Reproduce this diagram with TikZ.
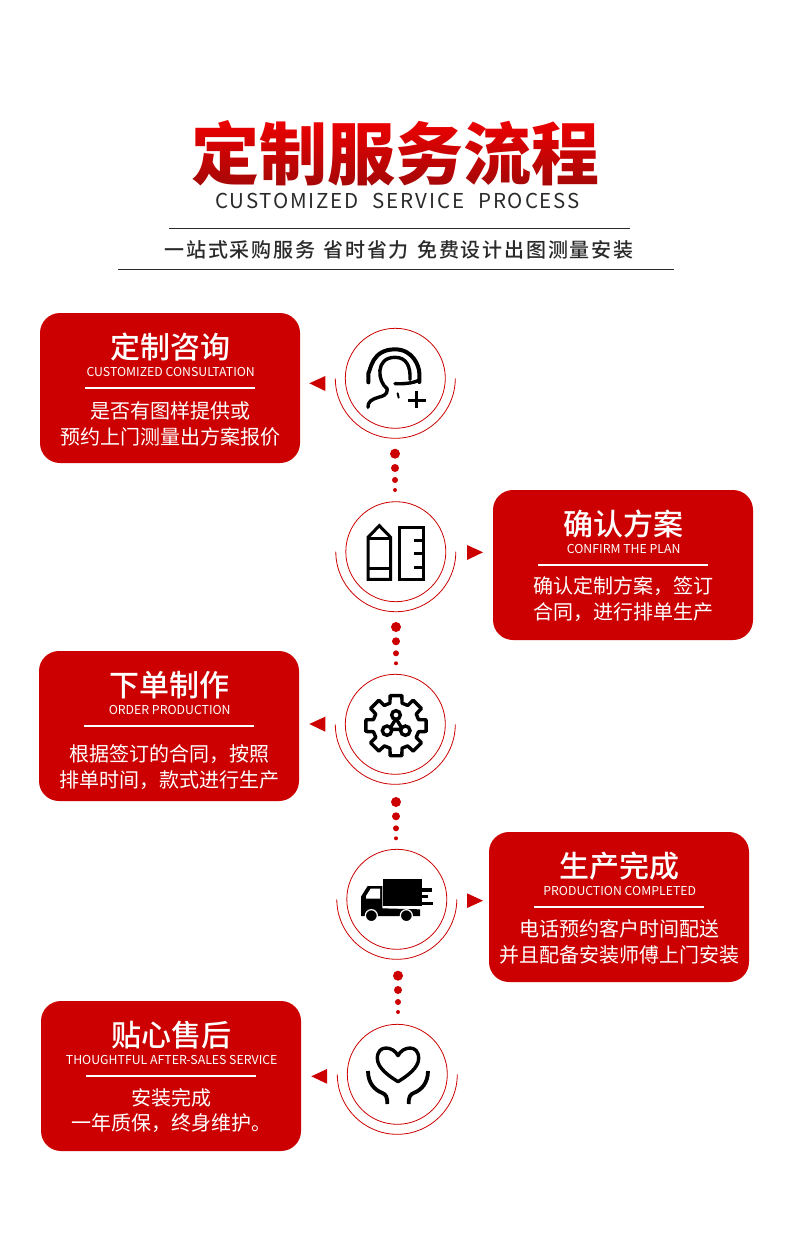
\documentclass[tikz,border=0pt]{standalone}
\usepackage{fontspec}
\setmainfont{Noto Sans CJK SC}
\newfontfamily\medfont{Noto Sans CJK SC Medium}
\newfontfamily\heavyfont{Noto Sans CJK SC Black}
\definecolor{cardred}{HTML}{CC0000}
\definecolor{ttltop}{HTML}{F20000}
\definecolor{ttlbot}{HTML}{A00808}
\definecolor{inkgray}{HTML}{2A2A2A}
\tikzset{
  mainttl/.style={font=\heavyfont\fontsize{68pt}{68pt}\selectfont, text=black, inner sep=0pt},
  ttlshade/.style={top color=ttltop, bottom color=ttlbot, draw=none, blend mode=screen},
  subttl/.style={font=\fontsize{20.5pt}{21pt}\selectfont\addfontfeature{LetterSpace=9}, text=inkgray, inner sep=0pt},
  tagline/.style={font=\medfont\fontsize{20pt}{20pt}\selectfont\addfontfeature{LetterSpace=9}, text=inkgray, inner sep=0pt},
  headrule/.style={draw=inkgray, line width=1pt},
  stepcard/.style={fill=cardred, rounded corners=20pt, minimum width=260pt, minimum height=150pt, inner sep=0pt},
  cardttl/.style={font=\medfont\fontsize{30pt}{30pt}\selectfont, text=white, inner sep=0pt},
  carden/.style={font=\fontsize{12.3pt}{12pt}\selectfont, text=white, inner sep=0pt},
  cardtxt/.style={font=\fontsize{20pt}{20pt}\selectfont, text=white, inner sep=0pt},
  cardrule/.style={draw=white, line width=1.6pt},
  ringnode/.style={circle, draw=cardred, line width=0.8pt, minimum size=100pt, inner sep=0pt},
  ringarc/.style={draw=cardred, line width=0.8pt},
  dotnode/.style={circle, fill=cardred, inner sep=0pt},
  icon/.style={draw=black, line width=3.4pt},
}
\newcommand{\StepCard}[8]{%
  \begin{scope}[shift={(#2,#3)}]
    \node[stepcard] (#1box) at (130,75) {};
    \node[cardttl] (#1ttl) at (130,34) {#4};
    \node[carden] (#1en) at (130.7,59) {#5};
    \coordinate (#1ra) at (45,75);
    \coordinate (#1rb) at (215,75);
    \draw[cardrule] (#1ra) -- (#1rb);
    \node[cardtxt] (#1la) at (130,#8) {#6};
    \node[cardtxt] (#1lb) at (130,#8+26) {#7};
  \end{scope}
}
\newcommand{\StepRing}[3]{%
  \node[ringnode] (#1ring) at (#2,#3) {};
  \draw[ringarc] (#2-60,#3) arc[start angle=180, end angle=0, radius=60];
}
\newcommand{\DotRow}[3]{%
  \foreach \dy/\ds [count=\i] in {0/10,14.3/8,26.3/6,36.3/4} {
    \node[dotnode, minimum size=\ds pt] (#1dot\i) at (#2,#3+\dy) {};
  }
}
\begin{document}
\begin{tikzpicture}[x=1pt,y=-1pt]
  \useasboundingbox (0,0) rectangle (790,1244);
  \fill[white] (0,0) rectangle (790,1244);

  \node[mainttl] (ttlmain) at (395,153) {定制服务流程};
  \shade[ttlshade] (180,116) rectangle (610,190);
  \node[subttl] (ttlen) at (397.5,200.5) {CUSTOMIZED\hspace{7.5pt} SERVICE\hspace{7.5pt} PROCESS};
  \coordinate (ruleaw) at (169,228);
  \coordinate (ruleae) at (630,228);
  \draw[headrule] (ruleaw) -- (ruleae);
  \node[tagline] (tagtxt) at (399,249.5) {一站式采购服务\hspace{2pt} 省时省力\hspace{2pt} 免费设计出图测量安装};
  \coordinate (rulebw) at (118,269);
  \coordinate (rulebe) at (674,269);
  \draw[headrule] (rulebw) -- (rulebe);

  \StepCard{consult}{40}{313}{定制咨询}{CUSTOMIZED CONSULTATION}{是否有图样提供或}{预约上门测量出方案报价}{97.5}
  \StepCard{confirm}{493}{490}{确认方案}{CONFIRM THE PLAN}{确认定制方案，签订}{合同，进行排单生产}{96.5}
  \StepCard{order}{39}{651}{下单制作}{ORDER PRODUCTION}{根据签订的合同，按照}{排单时间，款式进行生产}{103.5}
  \StepCard{done}{489}{832}{生产完成}{PRODUCTION COMPLETED}{电话预约客户时间配送}{并且配备安装师傅上门安装}{96.5}
  \StepCard{after}{41}{1001}{贴心售后}{THOUGHTFUL AFTER-SALES SERVICE}{安装完成}{一年质保，终身维护。}{96.5}

  \StepRing{consult}{395.3}{378.3}
  \StepRing{confirm}{395.8}{551.7}
  \StepRing{order}{395.3}{724.3}
  \StepRing{done}{396.8}{899.3}
  \StepRing{after}{397.3}{1074.3}

  \DotRow{a}{395}{453.7}
  \DotRow{b}{396}{627}
  \DotRow{c}{396}{802}
  \DotRow{d}{398}{975.7}

  \fill[cardred] (309.3,383.3) -- (325.3,376) -- (325.3,391) -- cycle;
  \fill[cardred] (467,545) -- (467,560) -- (483,552.3) -- cycle;
  \fill[cardred] (309.3,724) -- (325.3,716.7) -- (325.3,731.7) -- cycle;
  \fill[cardred] (467,893.3) -- (467,908) -- (483,900.7) -- cycle;
  \fill[cardred] (311.3,1076.3) -- (327,1069) -- (327,1083.7) -- cycle;

  % consultation
  \begin{scope}[shift={(300,320)}, scale=1/3]
    \draw[icon, line cap=round, line width=4pt] (205,187) -- (205,160) .. controls (212,150) and (215,88) .. (285,88) .. controls (340,88) and (358,140) .. (358,160) -- (358,186);
    \draw[icon, line cap=round] (262,207) .. controls (232,185) and (225,112) .. (285,112) .. controls (320,112) and (332,140) .. (330,178);
    \draw[icon, line cap=round] (262,207) .. controls (262,225) and (250,228) .. (235,232) .. controls (215,238) and (203,245) .. (204,262);
    \draw[icon, line cap=round] (285,191) .. controls (310,192) and (340,190) .. (358,180);
    \draw[icon, line cap=round, line width=2pt] (293,220) -- (296,233);
    \draw[icon, line width=3pt] (325,240) -- (377,240);
    \draw[icon, line width=3pt] (350,213) -- (350,265);
  \end{scope}

  % pencil and ruler
  \begin{scope}[shift={(300,320)}, scale=1/3]
    \draw[icon, line width=3pt] (204,652) -- (238,617) -- (272,652) -- (272,778) -- (204,778) -- cycle;
    \draw[icon, line width=3pt] (204,655) -- (272,655);
    \draw[icon, line width=3pt] (204,746) -- (272,746);
    \draw[icon, line width=3pt] (297,623) rectangle (370,778);
    \draw[icon, line width=3pt] (370,660) -- (342,660);
    \draw[icon, line width=3pt] (370,700) -- (342,700);
    \draw[icon, line width=3pt] (370,742) -- (342,742);
  \end{scope}

  % gear
  \begin{scope}[shift={(300,660)}, scale=1/3]
    \begin{scope}[shift={(288,197)}]
      \draw[icon, line join=round] (-11:92)
        \foreach \a in {0,45,...,315} {
          -- (\a-11:92) -- (\a+11:92) -- (\a+15:70) -- (\a+30:70)
        } -- cycle;
    \end{scope}
    \draw[icon, fill=white] (288,176) -- (268,208) -- (308,208) -- cycle;
    \draw[icon, fill=white] (288,165) circle[radius=13];
    \draw[icon, fill=white] (261,212) circle[radius=14];
    \draw[icon, fill=white] (316,212) circle[radius=14];
  \end{scope}

  % truck
  \begin{scope}[shift={(300,660)}, scale=1/3]
    \fill[black] (250,657) rectangle (365,739);
    \fill[black] (365,685) rectangle (397,695);
    \fill[black] (365,704) rectangle (385,713);
    \fill[black] (365,727) rectangle (400,735);
    \fill[black] (183,768) -- (183,710) -- (203,678) -- (247,678) -- (247,745) -- (360,748) -- (360,768) -- cycle;
    \fill[white] (198,716) -- (198,708) -- (212,686) -- (240,686) -- (240,716) -- cycle;
    \draw[white, line width=1.2pt, fill=black] (214,767) circle[radius=18];
    \draw[white, line width=1.2pt, fill=black] (319,767) circle[radius=18];
  \end{scope}

  % heart and hands
  \begin{scope}[shift={(300,960)}, scale=1/3]
    \draw[icon, line join=round] (294,287) .. controls (280,258) and (232,252) .. (232,295) .. controls (232,325) and (270,350) .. (294,365) .. controls (318,350) and (356,325) .. (356,295) .. controls (356,252) and (308,258) .. (294,287) -- cycle;
    \draw[icon, line width=3.8pt] (204,333) .. controls (204,370) and (225,390) .. (245,398) .. controls (258,403) and (262,410) .. (262,432);
    \draw[icon, line width=3.8pt] (384,333) .. controls (384,370) and (363,390) .. (343,398) .. controls (330,403) and (326,410) .. (326,432);
  \end{scope}
\end{tikzpicture}
\end{document}
